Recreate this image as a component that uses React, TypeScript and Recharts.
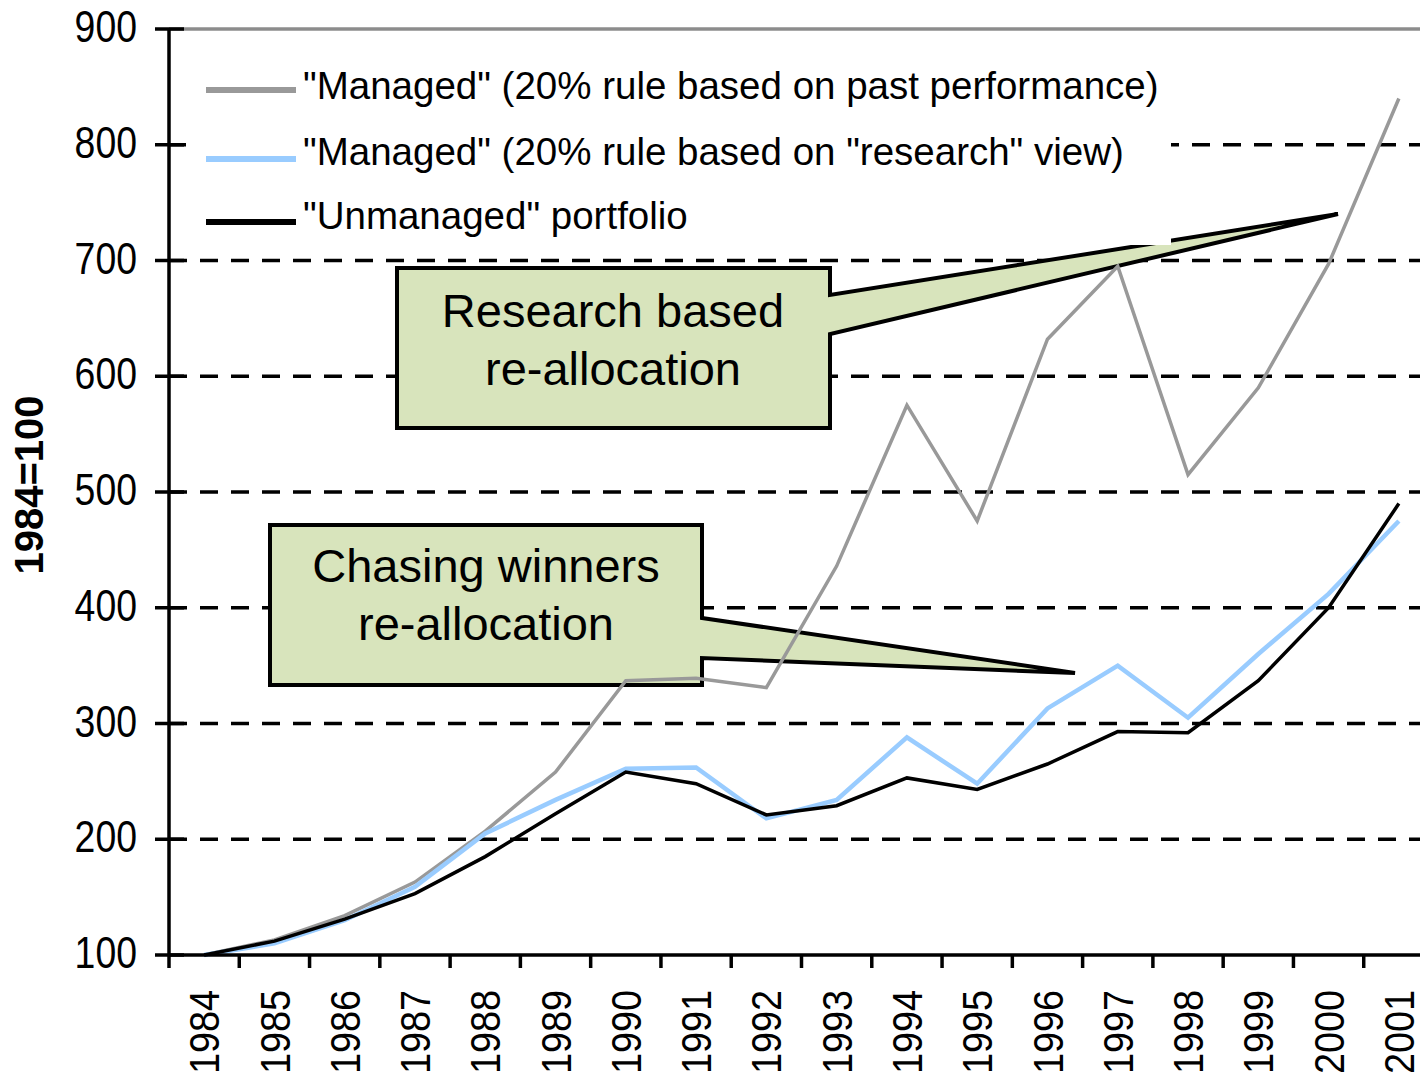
import React from 'react';
import { LineChart, Line, XAxis, YAxis, CartesianGrid, ReferenceLine, Legend, Customized } from 'recharts';

const years = [1984, 1985, 1986, 1987, 1988, 1989, 1990, 1991, 1992, 1993, 1994, 1995, 1996, 1997, 1998, 1999, 2000, 2001];
const managedPast = [100, 113, 134, 163, 207, 258, 337, 339, 331, 436, 575, 475, 632, 695, 515, 590, 697, 840];
const managedResearch = [100, 110, 130, 159, 205, 234, 261, 262, 218, 234, 288, 248, 313, 350, 305, 360, 412, 475];
const unmanaged = [100, 112, 131, 153, 185, 222, 258, 248, 221, 229, 253, 243, 265, 293, 292, 337, 400, 490];
const yTicks = [100, 200, 300, 400, 500, 600, 700, 800, 900];
const gridValues = [200, 300, 400, 500, 600, 700, 800];
const seriesNames = [
  '"Managed" (20% rule based on past performance)',
  '"Managed" (20% rule based on "research" view)',
  '"Unmanaged" portfolio',
];
const yAxisTitle = '1984=100';
const calloutResearch = ['Research based', 're-allocation'];
const calloutChasing = ['Chasing winners', 're-allocation'];

const data = years.map((y, i) => ({
  idx: i,
  year: y,
  past: managedPast[i],
  research: managedResearch[i],
  unmanaged: unmanaged[i],
}));
const xTicks: number[] = [];
for (let i = 0; i <= years.length * 2; i++) xTicks.push(i / 2 - 0.5);

const FONT = 'Liberation Sans, Arial, sans-serif';

const YTick = (props: any) => {
  const { x, y, payload } = props;
  return (
    <g>
      <line x1={x - 14} x2={x + 15} y1={y} y2={y} stroke="#000" strokeWidth={3.5} />
      <text
        transform={`translate(${x - 32},${y + 13}) scale(0.85,1)`}
        textAnchor="end"
        fontSize={44}
        fontFamily={FONT}
        fill="#000"
      >
        {payload.value}
      </text>
    </g>
  );
};

const XTick = (props: any) => {
  const { x, y, payload } = props;
  const v = payload.value;
  if (!Number.isInteger(v)) {
    return <line x1={x} x2={x} y1={y} y2={y + 13} stroke="#000" strokeWidth={3.5} />;
  }
  return (
    <text
      transform={`translate(${x},${y + 35}) rotate(-90) scale(0.9,1)`}
      textAnchor="end"
      dy="0.36em"
      fontSize={42}
      fontFamily={FONT}
      fill="#000"
    >
      {years[v]}
    </text>
  );
};

const LegendBox = (props: any) => {
  const payload = [...(props.payload || [])].sort(
    (a: any, b: any) => seriesNames.indexOf(a.value) - seriesNames.indexOf(b.value)
  );
  const lineTops = [49, 118, 181];
  const textTops = [26, 92, 156];
  return (
    <div style={{ position: 'relative', width: 985, height: 204, background: '#fff', fontFamily: FONT }}>
      {payload.map((p: any, i: number) => (
        <React.Fragment key={i}>
          <div
            style={{
              position: 'absolute',
              left: 20,
              top: lineTops[i] - 3,
              width: 90,
              height: 6,
              background: p.color,
            }}
          />
          <div
            style={{
              position: 'absolute',
              left: 117,
              top: textTops[i],
              fontSize: 38.5,
              lineHeight: '38.5px',
              whiteSpace: 'nowrap',
              color: '#000',
            }}
          >
            {p.value}
          </div>
        </React.Fragment>
      ))}
    </div>
  );
};

const Callouts = () => {
  const fill = '#d8e4bc';
  return (
    <g>
      <path
        d="M397,268 H830 V295 L1338,214 L830,334 V428 H397 Z"
        fill={fill}
        stroke="#000"
        strokeWidth={4}
        strokeLinejoin="miter"
      />
      <text x={613} y={327} textAnchor="middle" fontSize={47} fontFamily={FONT} fill="#000">
        {calloutResearch[0]}
      </text>
      <text x={613} y={385} textAnchor="middle" fontSize={47} fontFamily={FONT} fill="#000">
        {calloutResearch[1]}
      </text>
      <path
        d="M270,525 H702 V618 L1075,673 L702,658 V685 H270 Z"
        fill={fill}
        stroke="#000"
        strokeWidth={4}
        strokeLinejoin="miter"
      />
      <text x={486} y={582} textAnchor="middle" fontSize={47} fontFamily={FONT} fill="#000">
        {calloutChasing[0]}
      </text>
      <text x={486} y={640} textAnchor="middle" fontSize={47} fontFamily={FONT} fill="#000">
        {calloutChasing[1]}
      </text>
    </g>
  );
};

const YLabel = (props: any) => {
  const vb = props.viewBox || { x: 0, y: 29, width: 169, height: 926 };
  const cx = 29;
  const cy = vb.y + vb.height / 2 - 7;
  return (
    <text
      transform={`translate(${cx},${cy}) rotate(-90)`}
      textAnchor="middle"
      dy="0.36em"
      fontSize={40}
      fontWeight="bold"
      fontFamily={FONT}
      fill="#000"
    >
      {yAxisTitle}
    </text>
  );
};

export default function App() {
  return (
    <div style={{ width: 1428, height: 1082, overflow: 'hidden', margin: -8, background: '#fff' }}>
      <LineChart
        width={1440}
        height={1082}
        data={data}
        margin={{ top: 29, right: 6, left: 0, bottom: 0 }}
      >
        <CartesianGrid
          horizontal={true}
          vertical={false}
          horizontalValues={gridValues}
          stroke="#000"
          strokeWidth={3.5}
          strokeDasharray="18 13"
        />
        <XAxis
          type="number"
          dataKey="idx"
          domain={[-0.5, 17.5]}
          ticks={xTicks}
          interval={0}
          allowDataOverflow
          tickLine={false}
          tickSize={0}
          tickMargin={0}
          height={127}
          axisLine={{ stroke: '#000', strokeWidth: 3.5 }}
          tick={<XTick />}
        />
        <YAxis
          type="number"
          domain={[100, 900]}
          ticks={yTicks}
          interval={0}
          width={169}
          tickLine={false}
          tickSize={0}
          tickMargin={0}
          axisLine={{ stroke: '#000', strokeWidth: 3.5 }}
          tick={<YTick />}
          label={<YLabel />}
        />
        <ReferenceLine y={900} stroke="#8c8c8c" strokeWidth={3.5} />
        <Line
          type="linear"
          dataKey="past"
          name={seriesNames[0]}
          stroke="#999999"
          strokeWidth={3.5}
          dot={false}
          isAnimationActive={false}
        />
        <Line
          type="linear"
          dataKey="research"
          name={seriesNames[1]}
          stroke="#99ccff"
          strokeWidth={4.5}
          dot={false}
          isAnimationActive={false}
        />
        <Line
          type="linear"
          dataKey="unmanaged"
          name={seriesNames[2]}
          stroke="#000000"
          strokeWidth={3.5}
          dot={false}
          isAnimationActive={false}
        />
        <Legend
          layout="vertical"
          align="center"
          verticalAlign="middle"
          content={<LegendBox />}
          wrapperStyle={{ left: 186, top: 41, width: 985, height: 204, bottom: 'auto', right: 'auto' }}
        />
        <Customized component={Callouts} />
      </LineChart>
    </div>
  );
}
